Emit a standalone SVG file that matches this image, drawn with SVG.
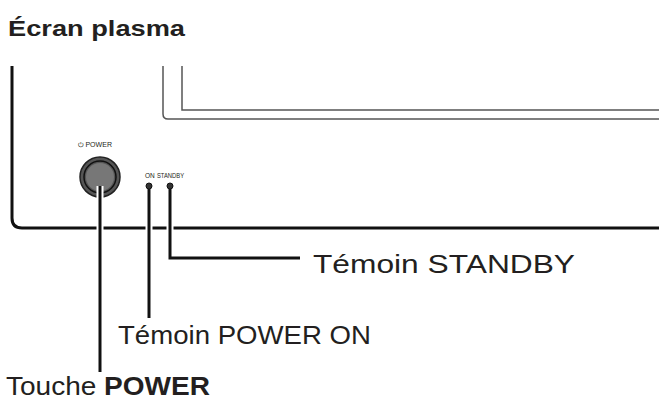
<svg xmlns="http://www.w3.org/2000/svg" width="659" height="407" viewBox="0 0 659 407">
<style>
.lbl{font-family:"Liberation Sans",Arial,sans-serif;font-size:25px;fill:#231f20}
.small{font-family:"Liberation Sans",Arial,sans-serif;font-size:6.5px;fill:#231f20}
.ln{stroke:#111;stroke-width:3;fill:none}
.halo{stroke:#fff;stroke-width:7;fill:none}
.frame{stroke:#555;stroke-width:1.5;fill:none}
</style>
<rect width="659" height="407" fill="#fff"/>
<text x="8" y="36" textLength="177" lengthAdjust="spacingAndGlyphs" style="font-family:'Liberation Sans',Arial,sans-serif;font-size:22px;font-weight:bold;fill:#231f20">Écran plasma</text>
<g id="bezel">
<path d="M12 66 V218 Q12 228 22 228 H659" class="ln"/>
</g>
<g id="screen">
<path d="M163 66 V114 Q163 119 168 119 H659" class="frame"/>
<path d="M182 66 V110 H659" class="frame"/>
</g>
<g id="power-button">
<text x="78" y="147" textLength="34" lengthAdjust="spacingAndGlyphs" class="small">⏻ POWER</text>
<circle cx="100" cy="177" r="20" fill="#555" stroke="#222" stroke-width="1.5"/>
<circle cx="100" cy="177" r="16" fill="none" stroke="#111" stroke-width="1.5"/>
<circle cx="100" cy="177" r="14" fill="#777"/>
</g>
<g id="leds">
<text x="145" y="178" class="small">ON</text>
<text x="157" y="178" textLength="27" lengthAdjust="spacingAndGlyphs" class="small">STANDBY</text>
<circle cx="149" cy="186" r="3" fill="#333" stroke="#111"/>
<circle cx="170" cy="186" r="3" fill="#333" stroke="#111"/>
</g>
<g id="connectors">
<path d="M100 186 V372" class="halo"/>
<path d="M149 189 V318" class="halo"/>
<path d="M170 189 V258 H300" class="halo"/>
<path d="M100 186 V372" class="ln"/>
<path d="M149 189 V318" class="ln"/>
<path d="M170 189 V258 H300" class="ln"/>
</g>
<g id="labels">
<text x="313" y="273" textLength="262" lengthAdjust="spacingAndGlyphs" class="lbl">Témoin STANDBY</text>
<text x="118" y="344" textLength="253" lengthAdjust="spacingAndGlyphs" class="lbl">Témoin POWER ON</text>
<text x="6" y="395" textLength="204" lengthAdjust="spacingAndGlyphs" class="lbl">Touche <tspan font-weight="bold">POWER</tspan></text>
</g>
</svg>
